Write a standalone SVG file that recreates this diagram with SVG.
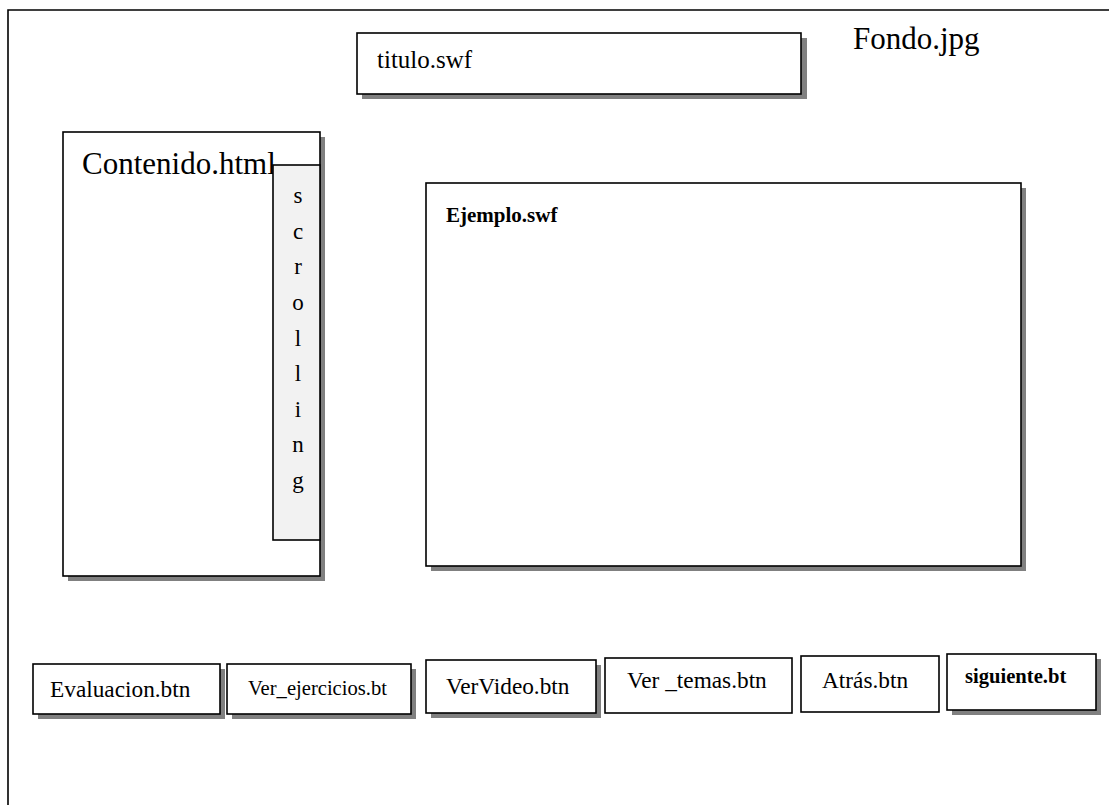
<svg xmlns="http://www.w3.org/2000/svg" width="1109" height="805" viewBox="0 0 1109 805" font-family="'Liberation Serif', 'DejaVu Serif', serif">
  <style>
    .box { fill: #ffffff; stroke: #000000; stroke-width: 1.6; }
    .shadow { fill: #808080; stroke: none; }
    .scroll { fill: #f2f2f2; stroke: #000000; stroke-width: 1.6; }
    .frame { fill: none; stroke: #000000; stroke-width: 1.6; }
    .big { font-size: 31px; }
    .btn { font-size: 23.3px; }
    .small { font-size: 20.6px; }
    .bold { font-weight: bold; }
    .letter { font-size: 23px; text-anchor: middle; }
  </style>

  <rect x="0" y="0" width="1109" height="805" fill="#ffffff"/>

  <!-- page frame (background image area) -->
  <g id="fondo">
    <path class="frame" d="M8,805 V10 H1109"/>
    <text class="big" x="853" y="49" font-family="Liberation Serif, serif">Fondo.jpg</text>
  </g>

  <g id="titulo">
    <rect class="shadow" x="362" y="38" width="445" height="61"/>
    <rect class="box" x="357" y="33" width="444" height="61"/>
    <text x="377" y="68" font-size="25" font-family="Liberation Serif, serif">titulo.swf</text>
  </g>

  <g id="contenido">
    <rect class="shadow" x="68" y="137" width="257" height="444"/>
    <rect class="box" x="63" y="132" width="257" height="444"/>
    <text class="big" x="82" y="174" font-family="Liberation Serif, serif">Contenido.html</text>
  </g>

  <g id="scrolling" font-family="Liberation Serif, serif">
    <rect class="scroll" x="273" y="165" width="47" height="375"/>
    <text class="letter" x="298" y="203">s</text>
    <text class="letter" x="298" y="239">c</text>
    <text class="letter" x="298" y="274">r</text>
    <text class="letter" x="298" y="310">o</text>
    <text class="letter" x="298" y="346">l</text>
    <text class="letter" x="298" y="381">l</text>
    <text class="letter" x="298" y="417">i</text>
    <text class="letter" x="298" y="452">n</text>
    <text class="letter" x="298" y="488">g</text>
  </g>

  <g id="ejemplo">
    <rect class="shadow" x="431" y="188" width="595" height="383"/>
    <rect class="box" x="426" y="183" width="595" height="383"/>
    <text class="bold" x="446" y="222" font-size="21" font-family="Liberation Serif, serif">Ejemplo.swf</text>
  </g>

  <!-- navigation buttons -->
  <g id="buttons" font-family="Liberation Serif, serif">
    <g id="evaluacion">
      <rect class="shadow" x="38" y="669" width="187" height="50"/>
      <rect class="box" x="33" y="664" width="187" height="50"/>
      <text class="btn" x="50" y="697">Evaluacion.btn</text>
    </g>

    <g id="ver-ejercicios">
      <rect class="shadow" x="232" y="669" width="184" height="50"/>
      <rect class="box" x="227" y="664" width="184" height="50"/>
      <text class="small" x="248" y="695">Ver_ejercicios.bt</text>
    </g>

    <g id="ver-video">
      <rect class="shadow" x="431" y="665" width="170" height="53"/>
      <rect class="box" x="426" y="660" width="170" height="53"/>
      <text class="btn" x="446" y="694">VerVideo.btn</text>
    </g>

    <g id="ver-temas">
      <rect class="box" x="605" y="658" width="187" height="55"/>
      <text class="btn" x="627" y="688">Ver _temas.btn</text>
    </g>

    <g id="atras">
      <rect class="box" x="801" y="656" width="138" height="56"/>
      <text class="btn" x="822" y="688">Atrás.btn</text>
    </g>

    <g id="siguiente">
      <rect class="shadow" x="952" y="659" width="149" height="56"/>
      <rect class="box" x="947" y="654" width="149" height="56"/>
      <text class="bold" x="965" y="683" font-size="20.6">siguiente.bt</text>
    </g>
  </g>

  <g id="connectors"></g>
</svg>
